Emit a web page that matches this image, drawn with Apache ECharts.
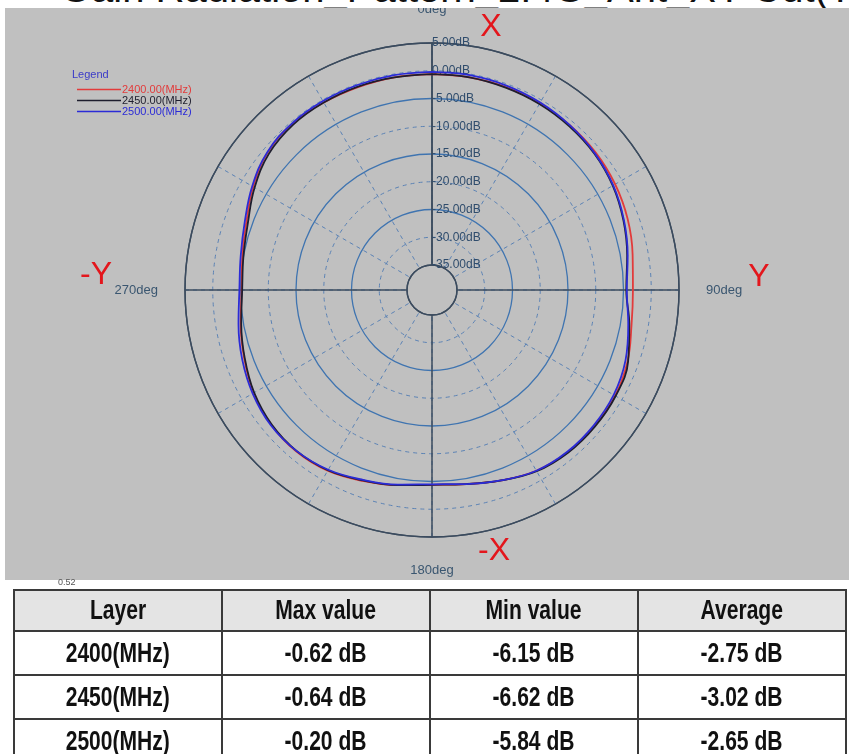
<!DOCTYPE html>
<html>
<head>
<meta charset="utf-8">
<script src="https://cdn.jsdelivr.net/npm/echarts@6/dist/echarts.min.js"></script>
<style>
  body {
    margin: 0;
    width: 849px;
    height: 754px;
    background: #fff;
    position: relative;
    overflow: hidden;
    font-family: "Liberation Sans", Arial, sans-serif;
  }
  #title {
    position: absolute;
    left: 0;
    top: 0;
    width: 849px;
    height: 8px;
    overflow: hidden;
    background: #fff;
    z-index: 2;
  }
  #title span {
    position: absolute;
    left: 60px;
    top: -32px;
    font-size: 40px;
    line-height: 40px;
    white-space: nowrap;
    color: #111;
  }
  #chart {
    position: absolute;
    left: 5px;
    top: 8px;
    width: 844px;
    height: 572px;
    background: #c0c0c0;
  }
  #scale {
    position: absolute;
    left: 58px;
    top: 577px;
    font-size: 9px;
    color: #555;
  }
  #stats {
    position: absolute;
    left: 13px;
    top: 589px;
    width: 834px;
    border-collapse: collapse;
    table-layout: fixed;
    font-family: "Liberation Sans", Arial, sans-serif;
    font-weight: bold;
    font-size: 27px;
    color: #111;
  }
  #stats th, #stats td {
    border: 2px solid #3a3a3a;
    text-align: center;
    padding: 0;
    line-height: 27px;
  }
  #stats th {
    background: #e4e4e4;
    height: 39px;
  }
  #stats td {
    height: 42px;
  }
  #stats span {
    display: inline-block;
    transform: scaleX(0.78);
    white-space: nowrap;
  }
</style>
</head>
<body>
<div id="title"><span>Gain Radiation_Pattern_2.4G_Ant_XY-Cut(Total)</span></div>
<div id="chart"></div>
<div id="scale">0.52</div>
<table id="stats"></table>

<script>
// angle (deg) of each sample
const angles = [0, 10, 20, 30, 40, 50, 60, 70, 80, 90, 100, 110,
  120, 130, 140, 150, 160, 170, 180, 190, 200, 210, 220, 230,
  240, 250, 260, 270, 280, 290, 300, 310, 320, 330, 340, 350]

// gain in dB
const gain2400 = [-0.6, -0.6, -0.6, -0.7, -0.8, -1.0, -1.4, -2.0, -2.8, -3.3, -3.0, -2.0,
  -1.4, -1.3, -1.4, -1.9, -3.0, -4.0, -4.4, -3.8, -2.9, -1.9, -1.5, -1.7,
  -2.4, -3.5, -4.5, -5.2, -4.8, -3.9, -2.3, -0.9, -0.4, -0.5, -0.6, -0.6]
const gain2450 = [-0.6, -0.6, -0.7, -0.8, -1.0, -1.3, -1.9, -2.8, -3.8, -4.5, -3.4, -1.9,
  -1.3, -1.2, -1.3, -1.8, -3.0, -4.0, -4.4, -3.8, -3.0, -2.0, -1.6, -1.8,
  -2.5, -3.6, -4.6, -5.3, -5.0, -4.2, -2.6, -1.2, -0.6, -0.5, -0.5, -0.6]
const gain2500 = [-0.2, -0.2, -0.3, -0.5, -0.8, -1.2, -1.8, -2.7, -3.7, -4.4, -3.6, -2.4,
  -1.7, -1.5, -1.5, -1.9, -3.0, -4.0, -4.5, -3.9, -3.1, -2.1, -1.6, -1.6,
  -2.2, -3.1, -4.1, -4.8, -4.5, -3.6, -2.1, -0.8, -0.3, -0.2, -0.2, -0.2]

const seriesNames = ['2400.00(MHz)', '2450.00(MHz)', '2500.00(MHz)']
const seriesColors = ['#e23b3b', '#1e1e2e', '#2b2bd6']

// summary table
const statHeaders = ['Layer', 'Max value', 'Min value', 'Average']
const statLayers = ['2400(MHz)', '2450(MHz)', '2500(MHz)']
const statMax = [-0.62, -0.64, -0.20]
const statMin = [-6.15, -6.62, -5.84]
const statAvg = [-2.75, -3.02, -2.65]

function toPolar(gain) {
  const pts = angles.map((a, i) => [gain[i], a])
  pts.push([gain[0], 360]) // close the loop
  return pts
}

const CENTER = [427, 282]
const RADIUS = [25, 247]
const DARK = '#3b4b5e'
const RING = '#3f74b0'
const DASH = '#5b82b4'
const NONE = 'rgba(0,0,0,0)'

const chart = echarts.init(document.getElementById('chart'), null, { renderer: 'canvas' })
chart.setOption({
  animation: false,
  polar: [
    { center: CENTER, radius: RADIUS },
    { center: CENTER, radius: RADIUS }
  ],
  angleAxis: [
    {
      polarIndex: 0,
      type: 'value',
      min: 0,
      max: 360,
      interval: 30,
      startAngle: 90,
      clockwise: true,
      axisLine: { lineStyle: { color: DARK, width: 1.5 } },
      axisTick: { show: false },
      axisLabel: {
        margin: 27,
        color: '#3a5670',
        fontSize: 13,
        formatter: v => (v % 90 === 0 && v < 360) ? v + 'deg' : ''
      },
      splitLine: { lineStyle: { color: DASH, type: [4, 4], width: 1 } }
    },
    {
      polarIndex: 1,
      type: 'value',
      min: 0,
      max: 360,
      interval: 90,
      startAngle: 90,
      clockwise: true,
      axisLine: { show: false },
      axisTick: { show: false },
      axisLabel: { show: false },
      splitLine: { lineStyle: { color: DARK, width: 1.5 } }
    }
  ],
  radiusAxis: [
    {
      polarIndex: 0,
      type: 'value',
      min: -35,
      max: 5,
      interval: 5,
      axisLine: { lineStyle: { color: DARK, width: 1.5 } },
      axisTick: { show: false },
      axisLabel: {
        margin: 0,
        align: 'left',
        color: '#2f4c6c',
        fontSize: 12,
        formatter: v => v.toFixed(2) + 'dB'
      },
      splitLine: { lineStyle: { color: [NONE, DASH], type: [4, 4], width: 1 } }
    },
    {
      polarIndex: 1,
      type: 'value',
      min: -35,
      max: 5,
      interval: 5,
      axisLine: { show: false },
      axisTick: { show: false },
      axisLabel: { show: false },
      splitLine: {
        lineStyle: {
          color: [DARK, NONE, RING, NONE, RING, NONE, RING, NONE, DARK],
          width: 1.3
        }
      }
    }
  ],
  legend: {
    orient: 'vertical',
    left: 67,
    top: 71,
    icon: 'rect',
    itemWidth: 44,
    itemHeight: 1.5,
    itemGap: 0,
    textStyle: { fontSize: 11, lineHeight: 11, padding: [0, 0, 0, -4] },
    data: seriesNames.map((n, i) => ({ name: n, textStyle: { color: seriesColors[i] } }))
  },
  graphic: [
    { type: 'text', left: 67, top: 61, style: { text: 'Legend', fill: '#3a3ac8', fontSize: 11 } },
    { type: 'text', x: 486, y: 19, style: { text: 'X', fill: '#e3161c', fontSize: 32, align: 'center', verticalAlign: 'middle' } },
    { type: 'text', x: 489, y: 543, style: { text: '-X', fill: '#e3161c', fontSize: 32, align: 'center', verticalAlign: 'middle' } },
    { type: 'text', x: 754, y: 269, style: { text: 'Y', fill: '#e3161c', fontSize: 32, align: 'center', verticalAlign: 'middle' } },
    { type: 'text', x: 91, y: 267, style: { text: '-Y', fill: '#e3161c', fontSize: 32, align: 'center', verticalAlign: 'middle' } }
  ],
  series: [gain2400, gain2450, gain2500].map((g, i) => ({
    name: seriesNames[i],
    type: 'line',
    coordinateSystem: 'polar',
    polarIndex: 0,
    data: toPolar(g),
    showSymbol: false,
    smooth: 0.4,
    lineStyle: { color: seriesColors[i], width: 1.8 },
    itemStyle: { color: seriesColors[i] }
  }))
})

// stats table
const fmt = v => v.toFixed(2) + ' dB'
const cell = (tag, t) => '<' + tag + '><span>' + t + '</span></' + tag + '>'
let html = '<tr>' + statHeaders.map(h => cell('th', h)).join('') + '</tr>'
statLayers.forEach((layer, i) => {
  html += '<tr>' + cell('td', layer) + cell('td', fmt(statMax[i])) +
    cell('td', fmt(statMin[i])) + cell('td', fmt(statAvg[i])) + '</tr>'
})
document.getElementById('stats').innerHTML = html
</script>
</body>
</html>
